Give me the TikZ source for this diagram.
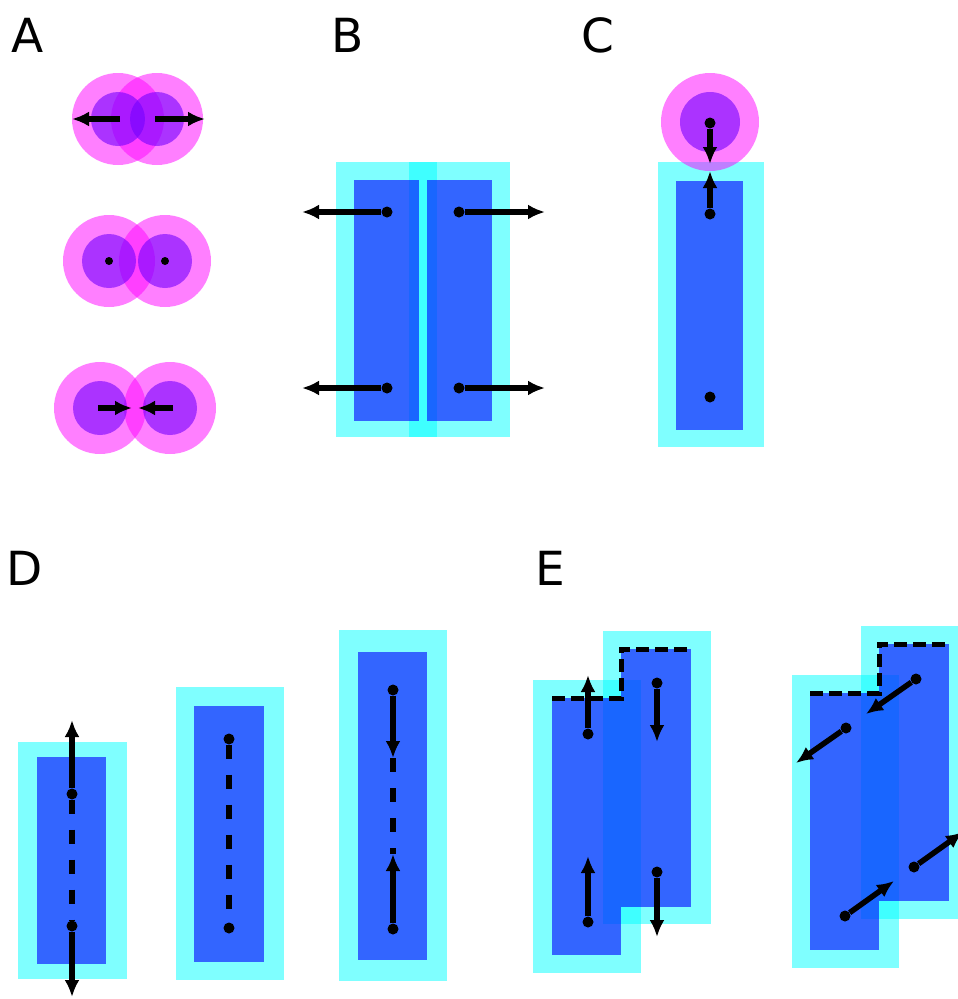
\documentclass[tikz,border=0pt]{standalone}
\usepackage{fontspec}
\setsansfont{DejaVu Sans}
\usepackage{tikz}
\usetikzlibrary{arrows.meta,positioning}
\definecolor{halocol}{rgb}{0,1,1}
\definecolor{corecol}{rgb}{0,0,1}
\definecolor{shellcol}{rgb}{1,0,1}
\definecolor{nucleuscol}{rgb}{0.45,0,1}
\tikzstyle{halo} = [fill=halocol, fill opacity=0.5]
\tikzstyle{core} = [fill=corecol, fill opacity=0.6]
\tikzstyle{shell} = [fill=shellcol, fill opacity=0.5]
\tikzstyle{nucleus} = [fill=nucleuscol, fill opacity=0.6]
\tikzstyle{force} = [draw, line width=5.5pt, -{Latex[length=17pt,width=15pt]}]
\tikzstyle{bond} = [draw, line width=5.5pt, dash pattern=on 14pt off 16pt]
\tikzstyle{rim} = [draw, line width=5pt, dash pattern=on 13pt off 6pt]
\tikzstyle{site} = [circle, fill=black, inner sep=0pt, minimum size=11pt]
\tikzstyle{panel} = [anchor=base west, inner sep=0pt, font=\sffamily\fontsize{47}{50}\selectfont]

\begin{document}
\begin{tikzpicture}[x=1pt, y=-1pt]
  \useasboundingbox (0,0) rectangle (958,999);
  \clip (0,0) rectangle (958,999);

  % panel letters
  \node[panel] (lA) at (11,52)  {A};
  \node[panel] (lB) at (331,52) {B};
  \node[panel] (lC) at (581,52) {C};
  \node[panel] (lD) at (6,585)  {D};
  \node[panel] (lE) at (535,585) {E};

  % cyan halos go down first, blue cores over them
  \fill[halo] (336,162) rectangle (437,437);
  \fill[halo] (409,162) rectangle (510,437);
  \fill[halo] (658,162) rectangle (764,447);
  \fill[halo] (18,742)  rectangle (127,979);
  \fill[halo] (176,687) rectangle (284,980);
  \fill[halo] (339,630) rectangle (447,981);
  \fill[halo] (533,680) rectangle (641,973);
  \fill[halo] (603,631) rectangle (711,924);
  \fill[halo] (792,675) rectangle (899,968);
  \fill[halo] (861,626) rectangle (967,919);

  \fill[core] (354,180) rectangle (419,421);
  \fill[core] (427,180) rectangle (492,421);
  \fill[core] (676,181) rectangle (743,430);
  \fill[core] (37,757)  rectangle (106,964);
  \fill[core] (194,706) rectangle (264,962);
  \fill[core] (358,652) rectangle (427,960);
  \fill[core] (552,698) rectangle (621,955);
  \fill[core] (621,649) rectangle (691,907);
  \fill[core] (810,693) rectangle (879,950);
  \fill[core] (879,644) rectangle (949,901);

  % pink shells with purple nuclei
  \fill[shell] (118,119) circle (46pt);
  \fill[shell] (157,119) circle (46pt);
  \fill[shell] (109,261) circle (46pt);
  \fill[shell] (165,261) circle (46pt);
  \fill[shell] (100,408) circle (46pt);
  \fill[shell] (170,408) circle (46pt);
  \fill[shell] (710,122) circle (49pt);

  \fill[nucleus] (118,119) circle (27pt);
  \fill[nucleus] (157,119) circle (27pt);
  \fill[nucleus] (109,261) circle (27pt);
  \fill[nucleus] (165,261) circle (27pt);
  \fill[nucleus] (100,408) circle (27pt);
  \fill[nucleus] (170,408) circle (27pt);
  \fill[nucleus] (710,122) circle (30pt);

  % A
  \coordinate (a1) at (120,119); \coordinate (a1t) at (72,119);
  \coordinate (a2) at (155,119); \coordinate (a2t) at (205,119);
  \node[site, minimum size=8pt] (a3) at (109,261) {};
  \node[site, minimum size=8pt] (a4) at (165,261) {};
  \coordinate (a5) at (98,408);  \coordinate (a5t) at (132,408);
  \coordinate (a6) at (173,408); \coordinate (a6t) at (138,408);
  \draw[force] (a1) -- (a1t);
  \draw[force] (a2) -- (a2t);
  \draw[force] (a5) -- (a5t);
  \draw[force] (a6) -- (a6t);

  % B
  \node[site] (b1) at (387,212) {}; \coordinate (b1t) at (302,212);
  \node[site] (b2) at (459,212) {}; \coordinate (b2t) at (545,212);
  \node[site] (b3) at (387,388) {}; \coordinate (b3t) at (302,388);
  \node[site] (b4) at (459,388) {}; \coordinate (b4t) at (545,388);
  \draw[force] (b1) -- (b1t);
  \draw[force] (b2) -- (b2t);
  \draw[force] (b3) -- (b3t);
  \draw[force] (b4) -- (b4t);

  % C
  \node[site] (c1) at (710,123) {}; \coordinate (c1t) at (710,164);
  \node[site] (c2) at (710,214) {}; \coordinate (c2t) at (710,171);
  \node[site] (c3) at (710,397) {};
  \draw[force] (c1) -- (c1t);
  \draw[force] (c2) -- (c2t);

  % D
  \node[site] (d1) at (72,794) {};  \coordinate (d1t) at (72,720);
  \node[site] (d2) at (72,926) {};  \coordinate (d2t) at (72,997);
  \draw[force] (d1) -- (d1t);
  \draw[force] (d2) -- (d2t);
  \draw[bond] (d1) -- (d2);

  \node[site] (d3) at (229,739) {};
  \node[site] (d4) at (229,928) {};
  \draw[bond] (d3) -- (d4);

  \node[site] (d5) at (393,690) {}; \coordinate (d5t) at (393,758);
  \node[site] (d6) at (393,929) {}; \coordinate (d6t) at (393,854);
  \draw[force] (d5) -- (d5t);
  \draw[force] (d6) -- (d6t);
  \draw[bond] (d5t) -- (d6t);

  % E
  \draw[rim] (552,698) -| (621,649) -- (691,649);
  \draw[rim] (810,693) -| (879,644) -- (949,644);

  \node[site] (e1) at (588,734) {}; \coordinate (e1t) at (588,675);
  \node[site] (e2) at (588,922) {}; \coordinate (e2t) at (588,856);
  \node[site] (e3) at (657,683) {}; \coordinate (e3t) at (657,742);
  \node[site] (e4) at (657,872) {}; \coordinate (e4t) at (657,937);
  \draw[force] (e1) -- (e1t);
  \draw[force] (e2) -- (e2t);
  \draw[force] (e3) -- (e3t);
  \draw[force] (e4) -- (e4t);

  \node[site] (e5) at (916,679) {}; \coordinate (e5t) at (866,714);
  \node[site] (e6) at (846,728) {}; \coordinate (e6t) at (796,763);
  \node[site] (e7) at (845,916) {}; \coordinate (e7t) at (894,881);
  \node[site] (e8) at (914,867) {}; \coordinate (e8t) at (963,832);
  \draw[force] (e5) -- (e5t);
  \draw[force] (e6) -- (e6t);
  \draw[force] (e7) -- (e7t);
  \draw[force] (e8) -- (e8t);
\end{tikzpicture}
\end{document}
